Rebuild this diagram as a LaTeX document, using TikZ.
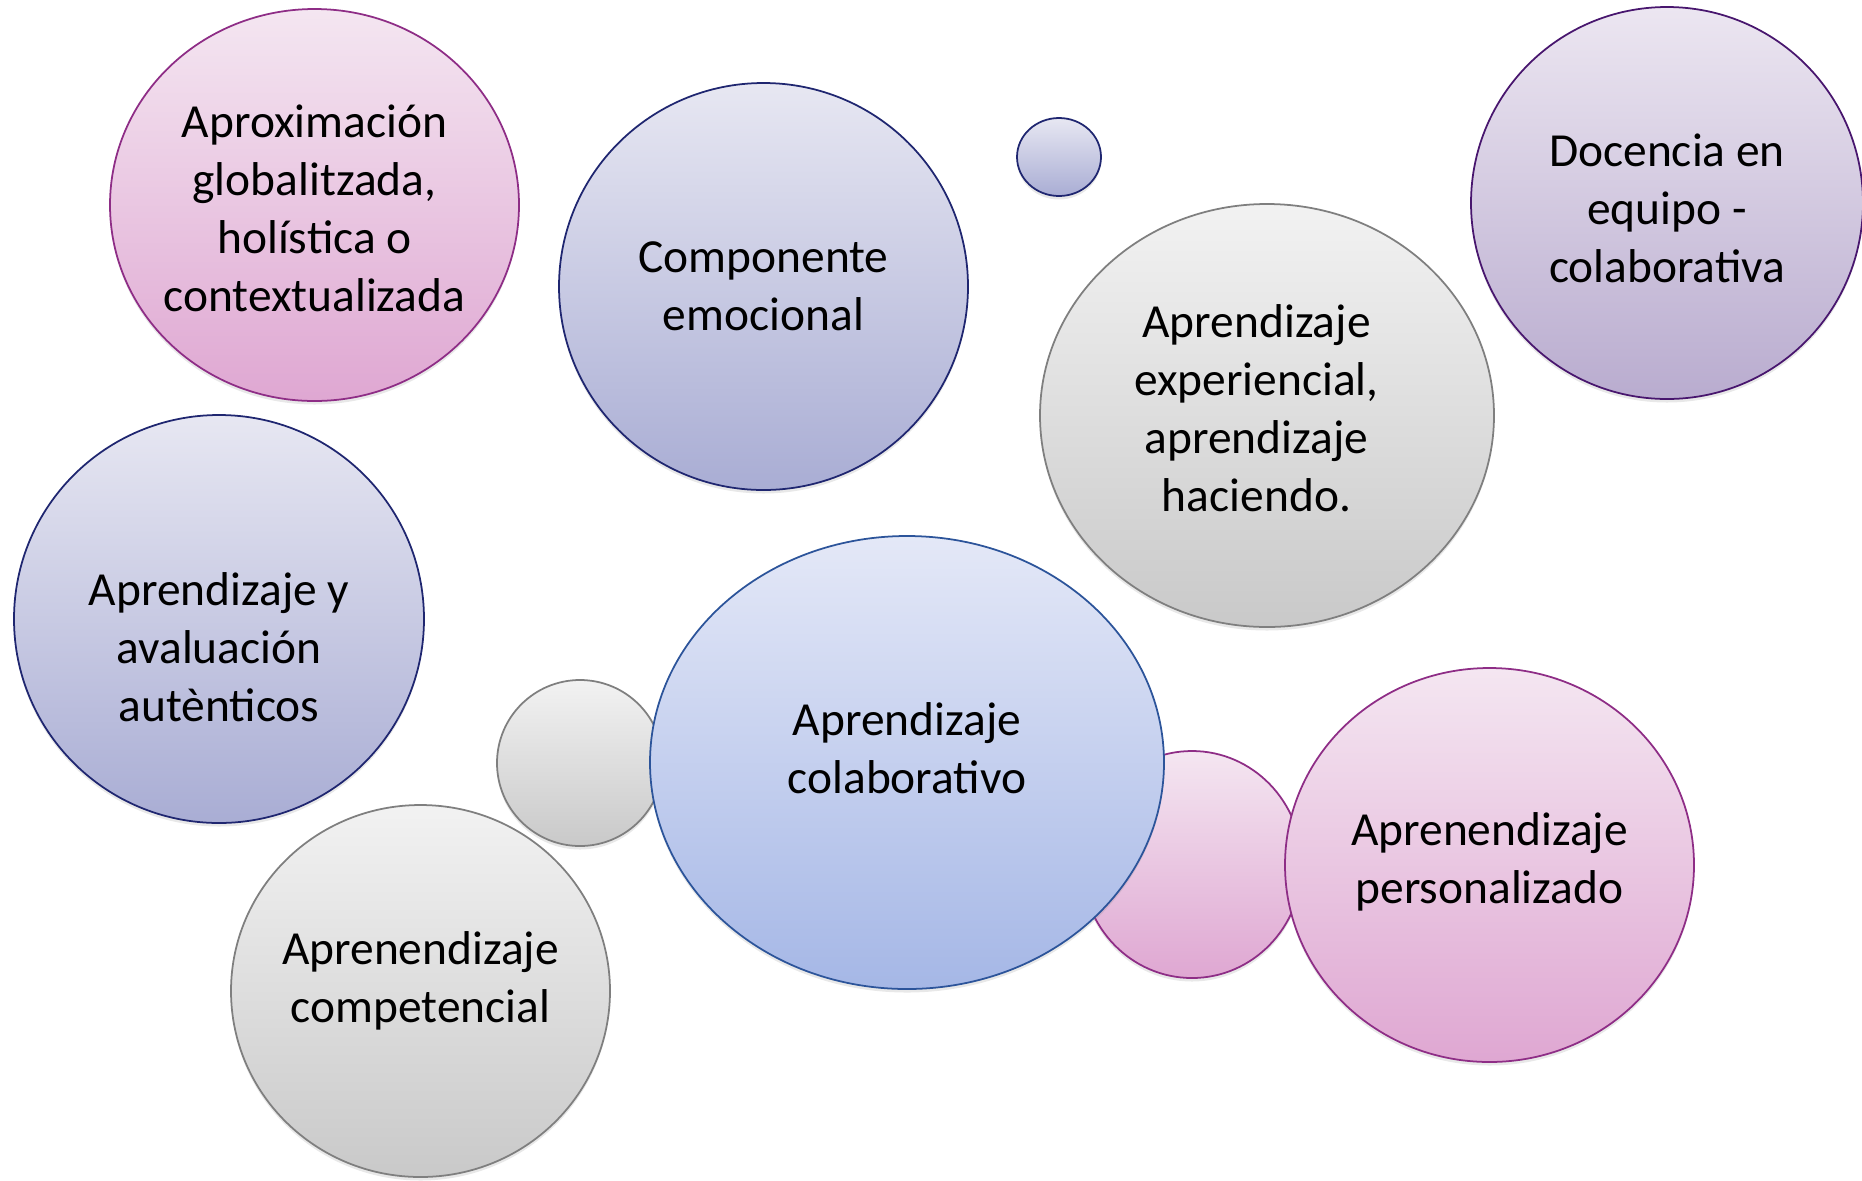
\documentclass[tikz,border=0pt]{standalone}
\usepackage{fontspec}
\setmainfont{Carlito}
\usepackage{xcolor}
\usepackage{tikz}
\usetikzlibrary{shapes.geometric}
\usetikzlibrary{shadows}

\definecolor{pinktop}{HTML}{F4E6F1}
\definecolor{pinkbot}{HTML}{DFA7D2}
\definecolor{pinkline}{HTML}{8E2D86}
\definecolor{lavtop}{HTML}{E7E7F2}
\definecolor{lavbot}{HTML}{A9ADD4}
\definecolor{lavline}{HTML}{1F2670}
\definecolor{graytop}{HTML}{F2F2F2}
\definecolor{graybot}{HTML}{C9C9C9}
\definecolor{grayline}{HTML}{7F7F7F}
\definecolor{purptop}{HTML}{ECE6F1}
\definecolor{purpbot}{HTML}{B9ACCF}
\definecolor{purpline}{HTML}{48166E}
\definecolor{bluetop}{HTML}{E4E8F7}
\definecolor{bluebot}{HTML}{A5B7E6}
\definecolor{blueline}{HTML}{2C549A}

\begin{document}
\begin{tikzpicture}[
  bubble/.style={ellipse, draw, line width=1pt, inner sep=0pt,
    drop shadow={shadow xshift=0pt, shadow yshift=-0.07cm, opacity=0.18}},
  pinkbub/.style={bubble, draw=pinkline, top color=pinktop, bottom color=pinkbot},
  lavbub/.style={bubble, draw=lavline, top color=lavtop, bottom color=lavbot},
  graybub/.style={bubble, draw=grayline, top color=graytop, bottom color=graybot},
  purpbub/.style={bubble, draw=purpline, top color=purptop, bottom color=purpbot},
  bluebub/.style={bubble, draw=blueline, top color=bluetop, bottom color=bluebot},
  txt/.style={align=center, font=\fontsize{27}{33}\selectfont}]
\useasboundingbox (0,0) rectangle (37.24,-23.6);
\clip (0,0) rectangle (37.24,-23.6);

% small bubbles behind
\node [lavbub, minimum width=1.68cm, minimum height=1.56cm] (dot) at (21.18,-3.14) {};
\node [graybub, minimum width=3.32cm, minimum height=3.32cm] (grayball) at (11.60,-15.26) {};
\node [pinkbub, minimum width=4.40cm, minimum height=4.54cm] (pinkball) at (23.84,-17.29) {};

% big bubbles
\node [pinkbub, minimum width=8.18cm, minimum height=7.84cm] (aprox) at (6.29,-4.10) {};
\node [lavbub, minimum width=8.18cm, minimum height=8.14cm] (emoc) at (15.27,-5.73) {};
\node [purpbub, minimum width=7.84cm, minimum height=7.84cm] (docen) at (33.34,-4.06) {};
\node [graybub, minimum width=9.08cm, minimum height=8.46cm] (exper) at (25.34,-8.31) {};
\node [lavbub, minimum width=8.20cm, minimum height=8.16cm] (autent) at (4.38,-12.38) {};
\node [bluebub, minimum width=10.28cm, minimum height=9.06cm] (colab) at (18.14,-15.25) {};
\node [pinkbub, minimum width=8.18cm, minimum height=7.88cm] (person) at (29.79,-17.30) {};
\node [graybub, minimum width=7.58cm, minimum height=7.44cm] (compet) at (8.41,-19.82) {};

% labels
\node [txt] (aprox-t) at ([yshift=-0.06cm]aprox) {Aproximación\\globalitzada,\\holística o\\contextualizada};
\node [txt] (emoc-t) at (emoc) {Componente\\emocional};
\node [txt] (docen-t) at ([yshift=-0.1cm]docen) {Docencia en\\equipo -\\colaborativa};
\node [txt] (exper-t) at ([xshift=-0.21cm, yshift=0.14cm]exper) {Aprendizaje\\experiencial,\\aprendizaje\\haciendo.};
\node [txt] (autent-t) at ([yshift=-0.57cm]autent) {Aprendizaje y\\avaluación\\autènticos};
\node [txt] (colab-t) at ([yshift=0.28cm]colab) {Aprendizaje\\colaborativo};
\node [txt] (person-t) at ([yshift=0.07cm]person) {Aprenendizaje\\personalizado};
\node [txt] (compet-t) at ([yshift=0.21cm]compet) {Aprenendizaje\\competencial};
\end{tikzpicture}
\end{document}
